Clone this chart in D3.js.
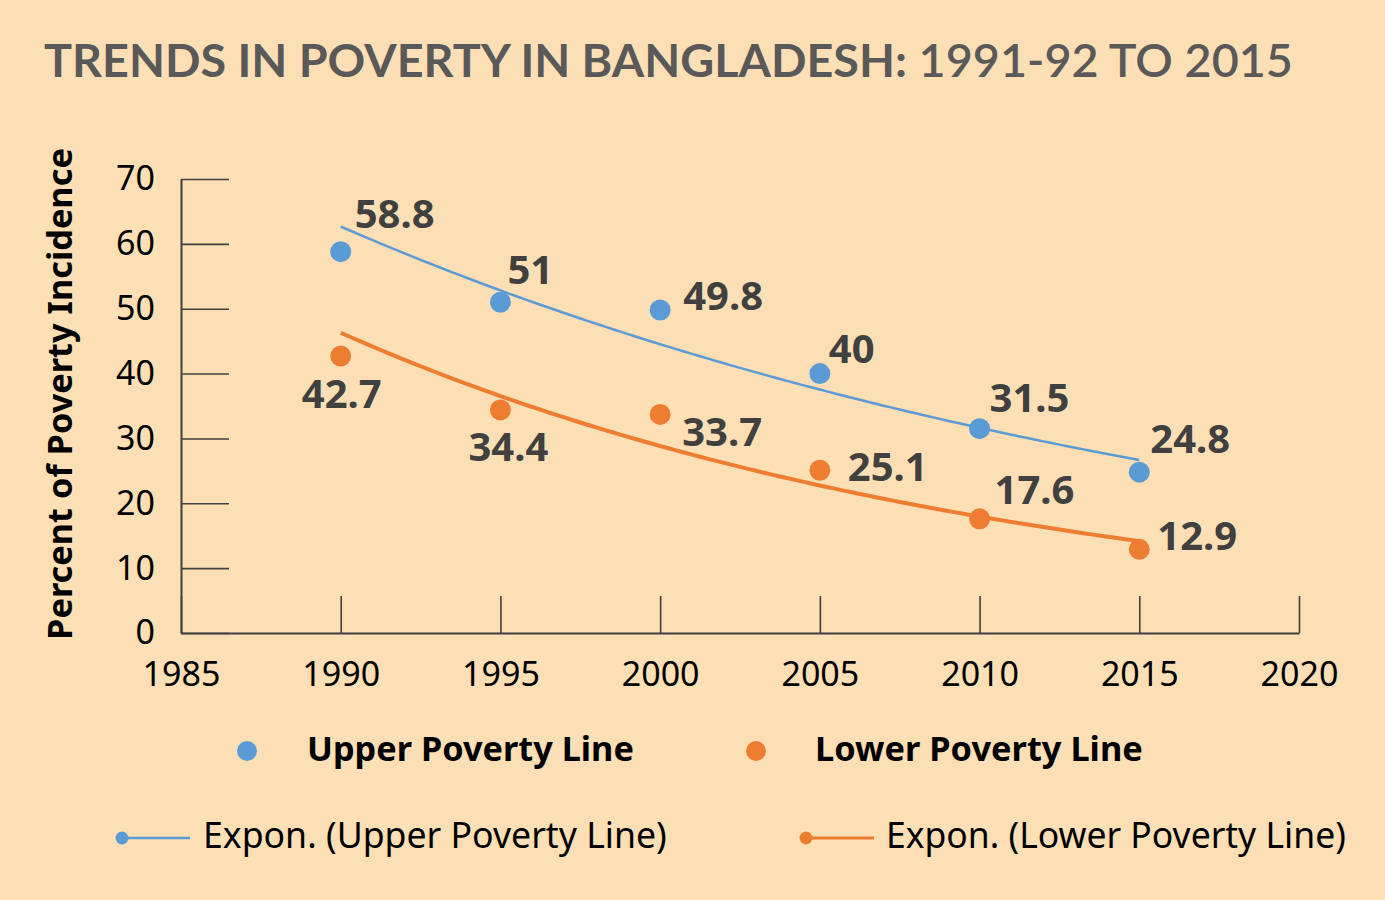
<!DOCTYPE html>
<html><head><meta charset="utf-8">
<script src="https://cdn.jsdelivr.net/npm/d3@7"></script>
<style>
html,body{margin:0;padding:0;background:#FDDFB6;}
svg{display:block;}
text{font-family:"Noto Sans","Open Sans",sans-serif;}
</style></head>
<body>
<svg id="chart" width="1385" height="900"></svg>
<script>
const years = [1990, 1995, 2000, 2005, 2010, 2015];
const upperValues = [58.8, 51, 49.8, 40, 31.5, 24.8];
const lowerValues = [42.7, 34.4, 33.7, 25.1, 17.6, 12.9];
const xTickValues = [1985, 1990, 1995, 2000, 2005, 2010, 2015, 2020];
const yTickValues = [0, 10, 20, 30, 40, 50, 60, 70];
const seriesNames = ["Upper Poverty Line", "Lower Poverty Line"];
const titleMain = "TRENDS IN POVERTY IN BANGLADESH:";
const titleSub = " 1991-92 TO 2015";
const yTitle = "Percent of Poverty Incidence";

// label offsets (px, relative to point) — layout only
const upperLabelPos = [[14,-24,"start"],[7,-18,"start"],[23,0,"start"],[9,-11,"start"],[10,-17,"start"],[11,-19,"start"]];
const lowerLabelPos = [[1,52,"middle"],[8,51,"middle"],[22,32,"start"],[28,11,"start"],[15,-15,"start"],[18,1,"start"]];

const BLUE = "#5B9BD5", ORANGE = "#ED7D31", AXIS = "#404040", LABEL = "#404040";

const svg = d3.select("#chart");
svg.append("rect").attr("width",1385).attr("height",900).attr("fill","#FDDFB6");

const x = d3.scaleLinear().domain([1985, 2020]).range([181, 1299]);
const y = d3.scaleLinear().domain([0, 70]).range([633, 179]);

// scale a text's font size so that it spans the given width
function fitWidth(sel, target) {
  const fs = parseFloat(sel.style("font-size"));
  const w = sel.node().getComputedTextLength();
  sel.style("font-size", (fs * target / w) + "px");
}

// title
const t = svg.append("text").attr("x",44).attr("y",77).attr("fill","#595959")
  .style("font-family","Lato, sans-serif").style("font-size","47px").style("font-weight","bold");
t.append("tspan").text(titleMain);
t.append("tspan").style("font-weight","600").text(titleSub);
fitWidth(t, 1249);

// y-axis title
const yt = svg.append("text").attr("transform","translate(72,394) rotate(-90)")
  .attr("text-anchor","middle").attr("fill","#000")
  .style("font-size","34px").style("font-weight","bold").text(yTitle);
fitWidth(yt, 492);

// axes
const yAxis = d3.axisLeft(y).tickValues(yTickValues).tickSizeInner(-48).tickSizeOuter(0).tickPadding(26).tickFormat(d3.format("d"));
const gy = svg.append("g").attr("transform","translate(181,0)").call(yAxis);
const xAxis = d3.axisBottom(x).tickValues(xTickValues).tickSizeInner(-37).tickSizeOuter(0).tickPadding(29).tickFormat(d3.format("d"));
const gx = svg.append("g").attr("transform","translate(0,633)").call(xAxis);
[gx, gy].forEach(g => {
  g.select(".domain").attr("stroke",AXIS).attr("stroke-width",2);
  g.selectAll(".tick line").attr("stroke",AXIS).attr("stroke-width",1.6);
  g.selectAll(".tick text").attr("fill","#000").style("font-size","34px").style("font-family","'Noto Sans', sans-serif");
});

// exponential trend fit (least squares on ln y)
function expFit(xs, ys) {
  const ly = ys.map(Math.log);
  const mx = d3.mean(xs), my = d3.mean(ly);
  const b = d3.sum(xs, (v,i) => (v-mx)*(ly[i]-my)) / d3.sum(xs, v => (v-mx)*(v-mx));
  return v => Math.exp(my + b*(v-mx));
}
const line = d3.line().x(d => x(d[0])).y(d => y(d[1]));
function trend(vals, color, w) {
  const f = expFit(years, vals);
  const pts = d3.range(years[0], years[years.length-1] + 0.001, 0.25).map(v => [v, f(v)]);
  svg.append("path").attr("d", line(pts)).attr("fill","none").attr("stroke",color).attr("stroke-width",w);
}
trend(upperValues, BLUE, 2.5);
trend(lowerValues, ORANGE, 4);

function points(vals, color, pos) {
  svg.append("g").selectAll("circle").data(vals).join("circle")
    .attr("cx",(d,i)=>x(years[i])).attr("cy",d=>y(d)).attr("r",10.5).attr("fill",color);
  svg.append("g").selectAll("text").data(vals).join("text")
    .attr("x",(d,i)=>x(years[i])+pos[i][0]).attr("y",(d,i)=>y(d)+pos[i][1])
    .attr("text-anchor",(d,i)=>pos[i][2]).attr("fill",LABEL)
    .style("font-size","40px").style("font-weight","bold").text(d=>d);
}
points(upperValues, BLUE, upperLabelPos);
points(lowerValues, ORANGE, lowerLabelPos);

// legend
const leg = svg.append("g");
[[247,307,BLUE,seriesNames[0],327],[756,815,ORANGE,seriesNames[1],328]].forEach(([cx,tx,c,name,w]) => {
  leg.append("circle").attr("cx",cx).attr("cy",751).attr("r",10).attr("fill",c);
  const tt = leg.append("text").attr("x",tx).attr("y",761).attr("fill","#000")
    .style("font-size","33px").style("font-weight","bold").text(name);
  fitWidth(tt, w);
});
[[122,190,203,BLUE,2.5,seriesNames[0],464],[806,874,886,ORANGE,3,seriesNames[1],460]].forEach(([x0,x1,tx,c,w,name,tw]) => {
  leg.append("line").attr("x1",x0).attr("x2",x1).attr("y1",838).attr("y2",838).attr("stroke",c).attr("stroke-width",w);
  leg.append("circle").attr("cx",x0).attr("cy",838).attr("r",6.5).attr("fill",c);
  const tt = leg.append("text").attr("x",tx).attr("y",848).attr("fill","#000")
    .style("font-size","33px").text("Expon. (" + name + ")");
  fitWidth(tt, tw);
});
</script>
</body></html>
